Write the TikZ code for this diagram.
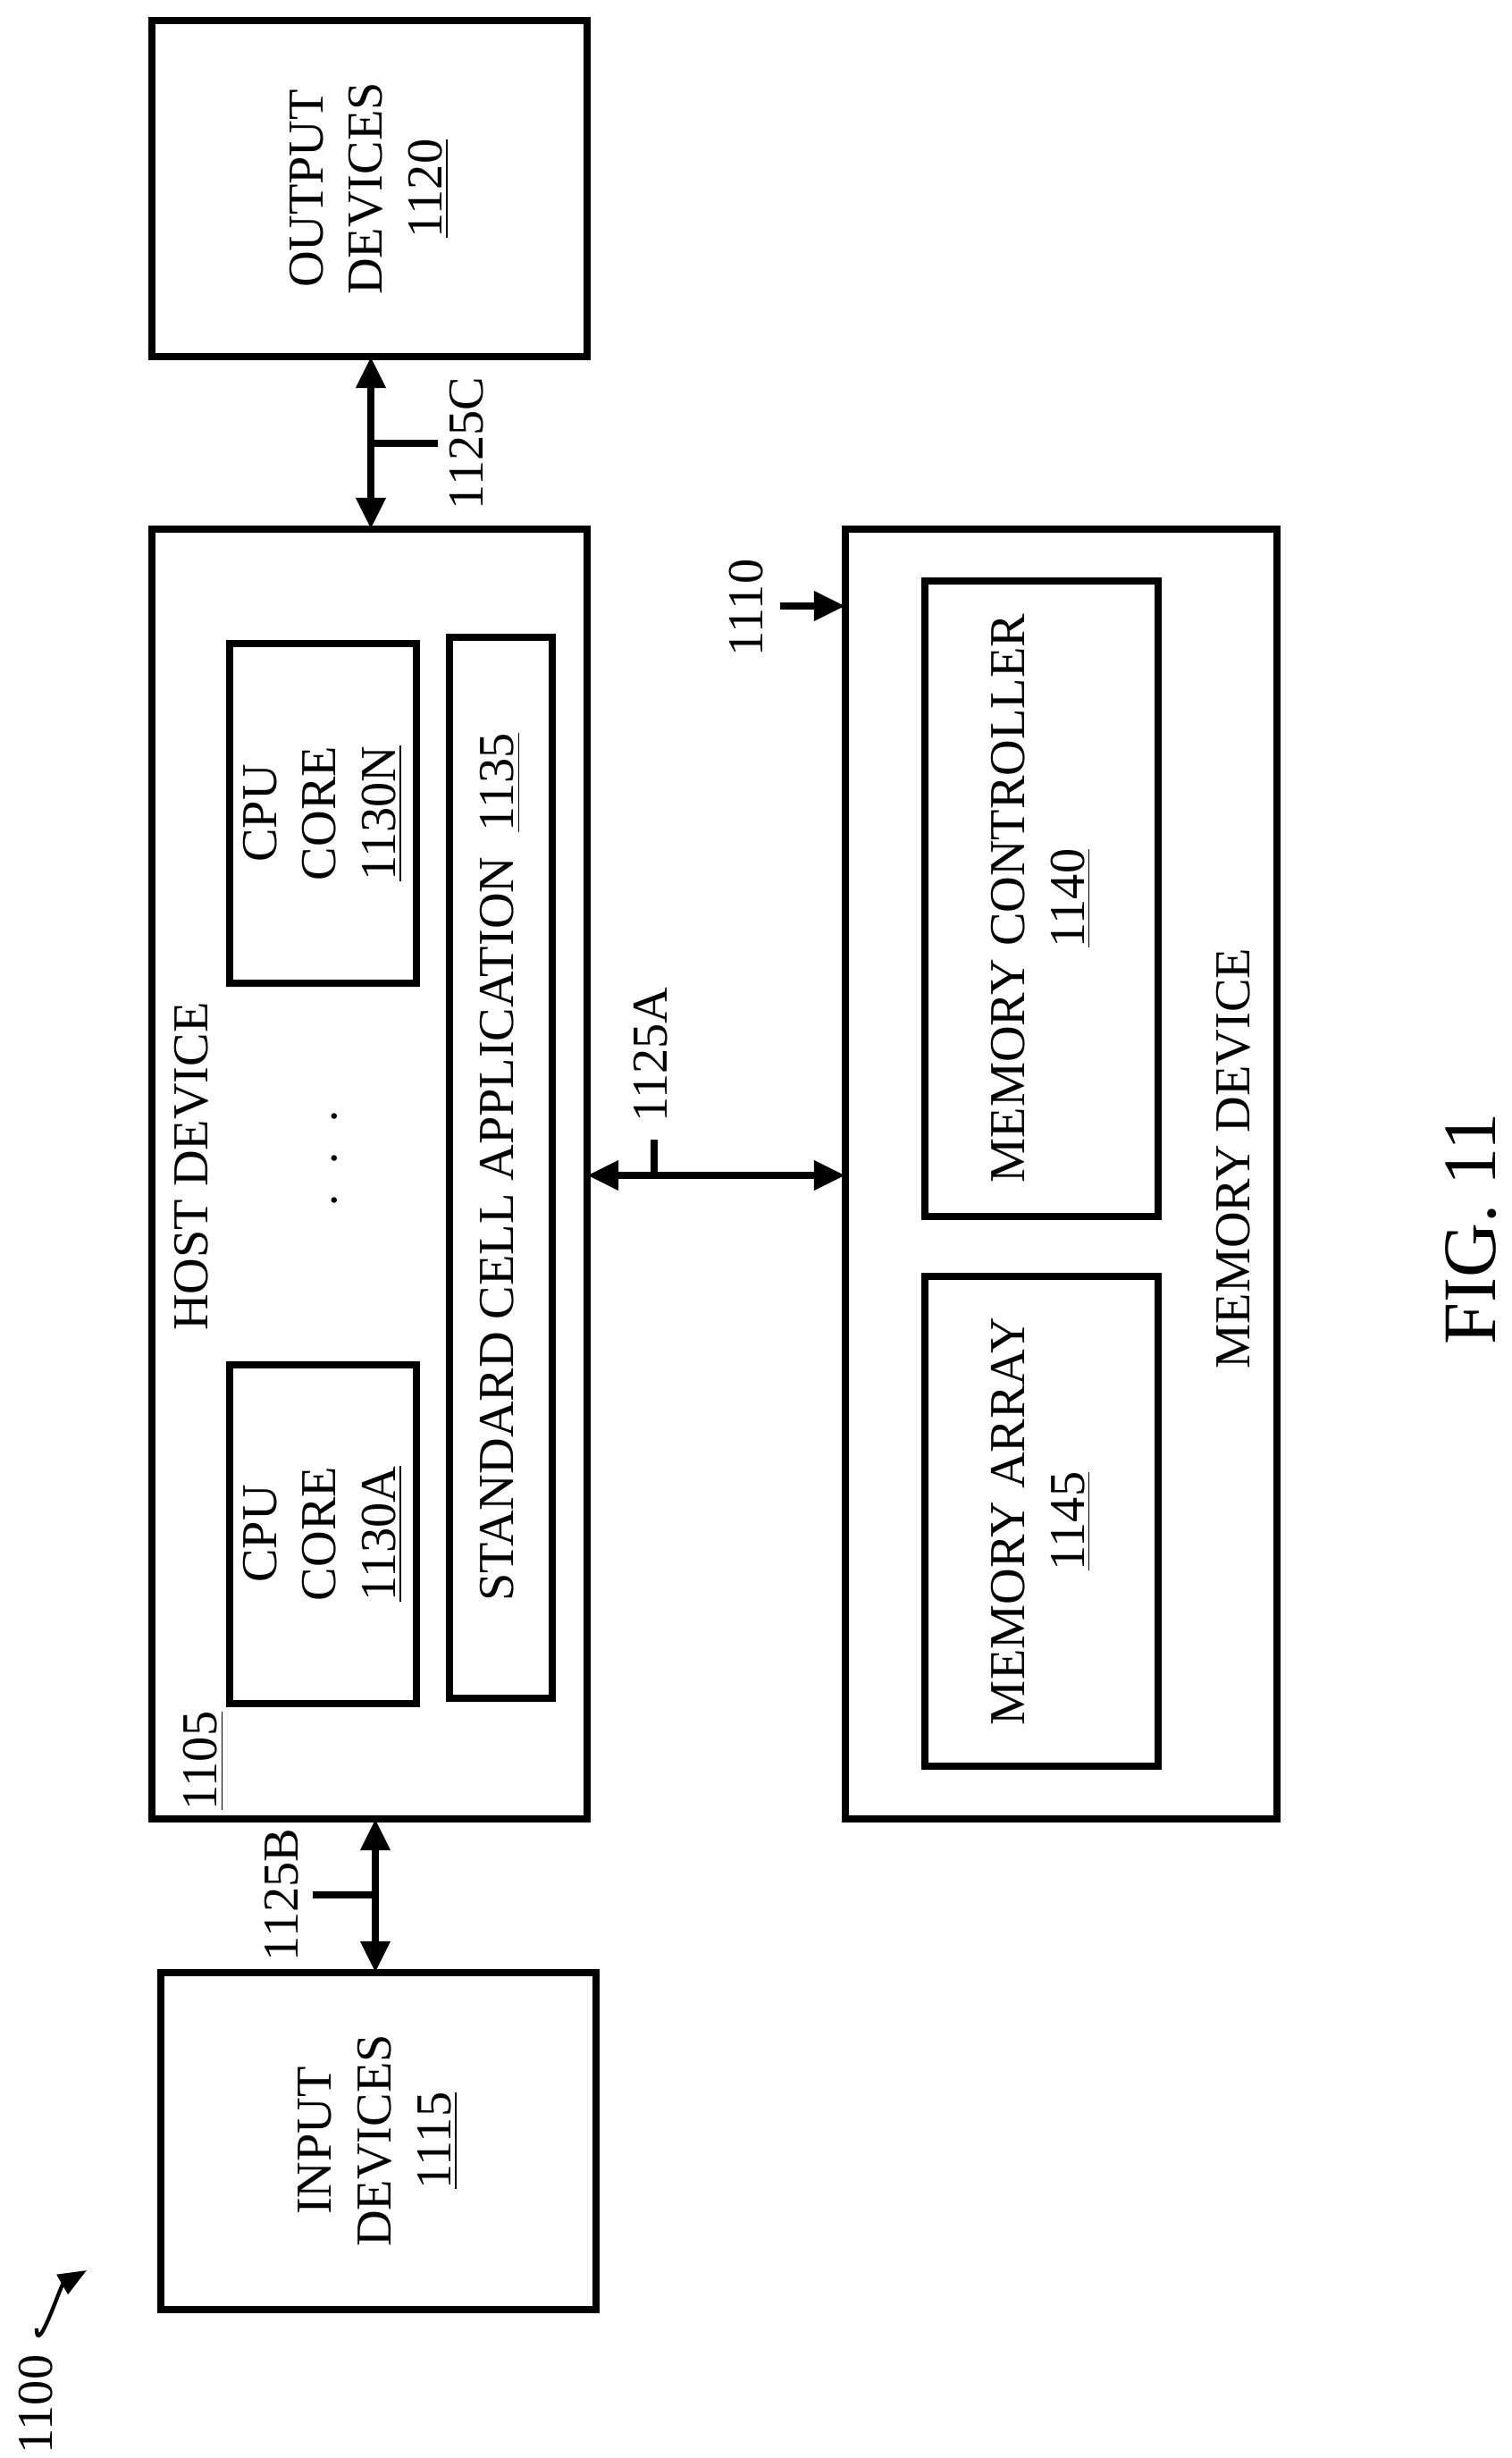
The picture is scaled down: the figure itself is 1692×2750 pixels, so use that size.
\documentclass[tikz,border=0pt]{standalone}
\usepackage{fontspec}
\setmainfont{Liberation Serif}
\usetikzlibrary{arrows.meta}
\tikzset{box/.style={draw,line width=2.4pt},
  lbl/.style={rotate=90,align=center,font=\fontsize{16}{19}\selectfont},
  bus/.style={line width=2.4pt,{Triangle[length=10pt,width=9pt]}-{Triangle[length=10pt,width=9pt]}}}
\begin{document}
\begin{tikzpicture}[x=0.01cm,y=-0.01cm]
  \useasboundingbox (0,0) rectangle (1692,2750);
  % blocks
  \draw[box] (170,23) rectangle (657,399);
  \node[lbl] (out) at (413,211) {OUTPUT\\DEVICES\\\underline{1120}};
  \draw[box] (170,592) rectangle (657,2035);
  \node[lbl] (host) at (214,1305) {HOST DEVICE};
  \node[lbl] (hnum) at (228,1970) {\underline{1105}};
  \draw[box] (257,720) rectangle (466,1100);
  \node[lbl] (cpun) at (361,910) {CPU\\CORE\\\underline{1130N}};
  \draw[box] (257,1527) rectangle (466,1906);
  \node[lbl] (cpua) at (361,1716) {CPU\\CORE\\\underline{1130A}};
  \node[lbl] (dots) at (376,1296) {$\cdot\;\cdot\;\cdot$};
  \draw[box] (503,713) rectangle (618,1900);
  \node[lbl] (std) at (560,1306) {STANDARD CELL APPLICATION\ \ \underline{1135}};
  \draw[box] (180,2207) rectangle (667,2584);
  \node[lbl] (in) at (423,2395) {INPUT\\DEVICES\\\underline{1115}};
  \draw[box] (946,592) rectangle (1429,2035);
  \node[lbl] (mem) at (1380,1296) {MEMORY DEVICE};
  \draw[box] (1035,650) rectangle (1296,1361);
  \node[lbl] (ctrl) at (1165,1005) {MEMORY CONTROLLER\\\underline{1140}};
  \draw[box] (1035,1428) rectangle (1296,1976);
  \node[lbl] (arr) at (1165,1702) {MEMORY ARRAY\\\underline{1145}};
  % buses
  \coordinate (a1) at (657,1315); \coordinate (a2) at (946,1315);
  \draw[bus] (a1) -- (a2);
  \coordinate (ta) at (732,1315); \coordinate (tb) at (732,1275);
  \draw[line width=2.4pt] (ta) -- (tb);
  \node[lbl,anchor=west] (l1125a) at (728,1268) {1125A};
  \coordinate (b1) at (420,2035); \coordinate (b2) at (420,2207);
  \draw[bus] (b1) -- (b2);
  \coordinate (tc) at (420,2120); \coordinate (td) at (350,2120);
  \draw[line width=2.4pt] (tc) -- (td);
  \node[lbl] (l1125b) at (315,2120) {1125B};
  \coordinate (c1) at (415,399); \coordinate (c2) at (415,592);
  \draw[bus] (c1) -- (c2);
  \coordinate (te) at (415,496); \coordinate (tf) at (490,496);
  \draw[line width=2.4pt] (te) -- (tf);
  \node[lbl] (l1125c) at (522,496) {1125C};
  % references
  \node[lbl] (l1110) at (835,680) {1110};
  \coordinate (p1) at (873,678); \coordinate (p2) at (946,678);
  \draw[line width=2.4pt,-{Triangle[length=10pt,width=9pt]}] (p1) -- (p2);
  \node[lbl] (l1100) at (40,2690) {1100};
  \coordinate (q1) at (41,2605); \coordinate (q2) at (97,2540);
  \draw[line width=1.2pt,-{Triangle[length=9pt,width=7pt]}] (q1) to[out=-90,in=-150] (q2);
  \node[lbl,font=\fontsize{24}{28}\selectfont] (fig) at (1646,1375) {FIG. 11};
\end{tikzpicture}
\end{document}
